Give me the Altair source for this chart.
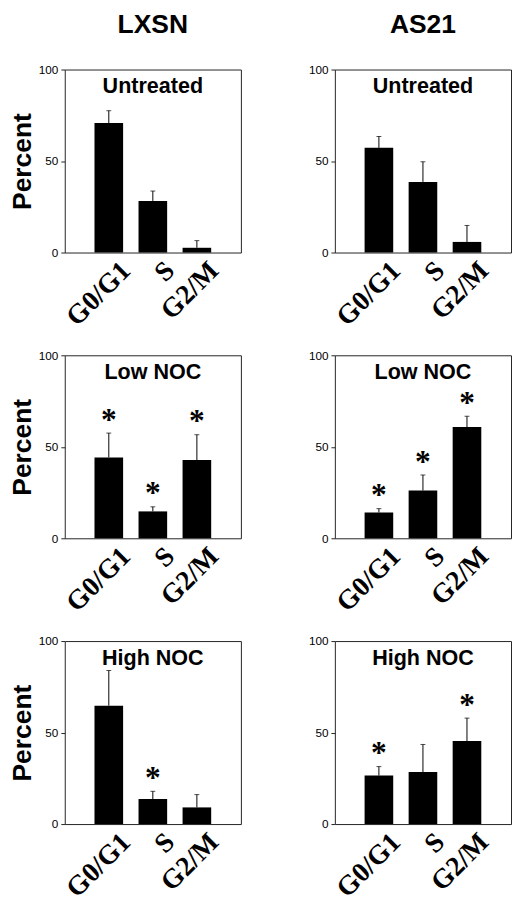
import altair as alt
import pandas as pd

# ---- data ----
phases = ["G0/G1", "S", "G2/M"]
lines = ["LXSN", "AS21"]
treatments = ["Untreated", "Low NOC", "High NOC"]

# mean percent per phase
lxsn_untreated = [70.8, 28.2, 2.6]
as21_untreated = [57.2, 38.6, 5.8]
lxsn_low = [44.2, 14.7, 42.8]
as21_low = [14.1, 26.1, 60.8]
lxsn_high = [64.7, 13.7, 9.1]
as21_high = [26.5, 28.4, 45.4]

# error (upper whisker length)
lxsn_untreated_err = [6.7, 5.4, 3.9]
as21_untreated_err = [6.2, 11.0, 9.0]
lxsn_low_err = [13.3, 2.5, 13.8]
as21_low_err = [2.1, 8.5, 5.9]
lxsn_high_err = [19.2, 4.2, 7.0]
as21_high_err = [4.9, 15.1, 12.5]

# significance markers (*)
lxsn_untreated_sig = [0, 0, 0]
as21_untreated_sig = [0, 0, 0]
lxsn_low_sig = [1, 1, 1]
as21_low_sig = [1, 1, 1]
lxsn_high_sig = [0, 1, 0]
as21_high_sig = [1, 0, 1]

y_ticks = [0, 50, 100]

SANS = "Liberation Sans"
SERIF = "Liberation Serif"
PW, PH = 180, 187


def panel(line, treat, vals, errs, sig, left, top):
    df = pd.DataFrame({"phase": phases, "value": vals, "err": errs, "sig": sig})
    base = alt.Chart(df).transform_calculate(
        upper="datum.value + datum.err",
        star="datum.value + datum.err + 12",
    )
    x = alt.X(
        "phase:N",
        sort=phases,
        scale=alt.Scale(paddingInner=0.35, paddingOuter=0.675),
        axis=alt.Axis(
            title=None,
            labelAngle=-45,
            labelAlign="right",
            labelBaseline="middle",
            labelFont=SERIF,
            labelFontWeight="bold",
            labelFontSize=28,
            labelColor="black",
            labelPadding=14,
            labelOffset=18,
            ticks=False,
            domain=False,
        ),
    )
    yaxis = dict(
        values=y_ticks,
        grid=False,
        domain=False,
        tickSize=4,
        tickColor="#222",
        labelFont=SANS,
        labelFontSize=12,
        labelColor="black",
        labelPadding=3,
    )
    if left:
        yaxis.update(
            title="Percent",
            titleFont=SANS,
            titleFontSize=27,
            titleFontWeight="bold",
            titleColor="black",
            titlePadding=2,
        )
    else:
        yaxis.update(title=None)
    yscale = alt.Scale(domain=[0, 100], nice=False)
    y = alt.Y("value:Q", scale=yscale, axis=alt.Axis(**yaxis))

    bars = base.mark_bar(color="black").encode(x=x, y=y)
    rule = base.mark_rule(color="black", strokeWidth=1).encode(
        x=x, y=alt.Y("value:Q", scale=yscale), y2="upper:Q"
    )
    cap = base.mark_tick(color="black", size=5, thickness=1).encode(
        x=x, y=alt.Y("upper:Q", scale=yscale)
    )
    star = (
        base.transform_filter("datum.sig == 1")
        .mark_text(
            text="*",
            font=SERIF,
            fontWeight="bold",
            fontSize=32,
            baseline="alphabetic",
            dy=19,
            color="black",
        )
        .encode(x=x, y=alt.Y("star:Q", scale=yscale))
    )
    cap_df = pd.DataFrame({"t": [treat]})
    caption = (
        alt.Chart(cap_df)
        .mark_text(font=SANS, fontWeight="bold", fontSize=22, baseline="middle", color="black")
        .encode(text="t:N", x=alt.value(PW / 2), y=alt.value(17))
    )
    ch = alt.layer(bars, rule, cap, star, caption).properties(width=PW, height=PH)
    if top:
        ch = ch.properties(
            title=alt.TitleParams(
                line,
                frame="group",
                anchor="middle",
                font=SANS,
                fontSize=27,
                fontWeight="bold",
                color="black",
                offset=25,
            )
        )
    return ch


rows = [
    (lxsn_untreated, lxsn_untreated_err, lxsn_untreated_sig,
     as21_untreated, as21_untreated_err, as21_untreated_sig),
    (lxsn_low, lxsn_low_err, lxsn_low_sig, as21_low, as21_low_err, as21_low_sig),
    (lxsn_high, lxsn_high_err, lxsn_high_sig, as21_high, as21_high_err, as21_high_sig),
]

row_charts = []
for i, (t, r) in enumerate(zip(treatments, rows)):
    a = panel(lines[0], t, r[0], r[1], r[2], True, i == 0)
    b = panel(lines[1], t, r[3], r[4], r[5], False, i == 0)
    row_charts.append(alt.hconcat(a, b, spacing=67))

chart = (
    alt.vconcat(*row_charts, spacing=17)
    .properties(
        padding={"top": -7, "left": 0, "right": 0, "bottom": 0},
        background="white",
    )
    .configure_view(stroke="#222", strokeWidth=1)
)

chart.save("out.html", embed_options={"renderer": "svg", "actions": False})
